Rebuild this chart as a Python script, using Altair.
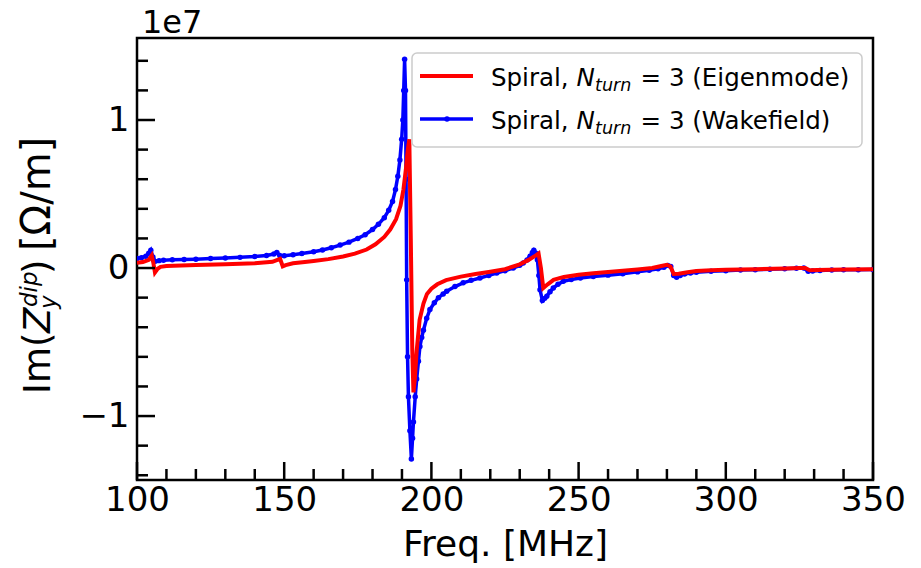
import altair as alt
import pandas as pd

# ---------------- data (values in units of 1e7 Ohm/m) ----------------
eig_freq = [100, 102, 104, 105, 105.6, 106.1, 107, 108, 110, 115, 120, 130, 140, 146, 148.6, 149.5,
            150.5, 153, 157, 160, 165, 170, 174, 178, 181, 184, 186, 188, 189.5, 190.5, 191.4, 192.0,
            192.5, 193.0, 193.5, 193.9, 194.4, 195.0, 196.0, 197.3, 198.5, 200, 202, 205, 210, 215,
            220, 225, 230, 233, 235.5, 236.4, 237.2, 238.0, 239.5, 241.5, 245, 250, 255, 260, 265,
            270, 275, 278.5, 280, 281.2, 282.3, 284, 287, 290, 295, 300, 310, 320, 325, 327, 328.5,
            331, 340, 350]
eig_val = [0.035, 0.04, 0.055, 0.085, 0.03, -0.03, -0.005, 0.008, 0.014, 0.017, 0.02, 0.025, 0.033,
           0.042, 0.062, 0.012, 0.02, 0.032, 0.04, 0.047, 0.06, 0.078, 0.097, 0.125, 0.16, 0.21,
           0.26, 0.33, 0.42, 0.53, 0.68, 0.80, 0.87, 0.2, -0.55, -0.84, -0.74, -0.56, -0.35, -0.24,
           -0.175, -0.14, -0.11, -0.082, -0.058, -0.04, -0.025, -0.008, 0.025, 0.055, 0.085, 0.098,
           0.0, -0.135, -0.11, -0.08, -0.06, -0.046, -0.036, -0.027, -0.018, -0.01, 0.0, 0.015,
           0.022, 0.01, -0.04, -0.038, -0.028, -0.02, -0.015, -0.012, -0.008, -0.004, 0.0, 0.0,
           -0.015, -0.013, -0.01, -0.008]

wake_freq = [100, 101.5, 103, 104, 104.7, 105.4, 106.2, 107.5, 109, 112, 116, 120, 125, 130, 135,
             140, 144, 146.5, 147.5, 148.5, 150, 153, 156, 160, 163, 166, 169, 172, 175, 177.5, 180,
             182, 184, 185.5, 186.8, 187.8, 188.6, 189.3, 189.9, 190.3, 190.6, 190.9, 191.2, 191.4,
             191.6, 191.9, 192.2, 192.7, 193.2, 193.6, 193.9, 194.5, 195.0, 195.6, 196.1, 196.7,
             197.3, 198.4, 199.5, 201, 202.4, 204, 205.2, 208, 210.8, 213.5, 216.5, 219.5, 222.2,
             225, 227.8, 230, 231.2, 232.5, 233.5, 234.3, 234.8, 235.5, 236.0, 236.5, 236.9, 237.7,
             238.5, 239.2, 240.3, 241.4, 243, 244.8, 247.5, 250.6, 255, 260, 265, 270, 274, 277,
             279, 280.3, 281.3, 282.3, 283.3, 284.5, 286, 288, 290, 295, 300, 305, 310, 315, 320,
             324, 326.5, 328, 329.5, 332, 336, 340, 345, 350]
wake_val = [0.065, 0.07, 0.08, 0.1, 0.12, 0.075, 0.045, 0.05, 0.053, 0.056, 0.058, 0.06, 0.064,
            0.068, 0.072, 0.078, 0.085, 0.095, 0.105, 0.085, 0.083, 0.09, 0.098, 0.11, 0.122, 0.137,
            0.155, 0.175, 0.2, 0.225, 0.26, 0.295, 0.34, 0.39, 0.45, 0.53, 0.62, 0.73, 0.87, 1.0,
            1.2, 1.41, 1.2, 0.6, -0.08, -0.6, -0.87, -1.1, -1.29, -1.15, -1.04, -0.87, -0.75, -0.63,
            -0.53, -0.47, -0.42, -0.34, -0.28, -0.235, -0.2, -0.175, -0.157, -0.125, -0.1, -0.083,
            -0.067, -0.05, -0.034, -0.018, 0.0, 0.018, 0.034, 0.055, 0.079, 0.105, 0.12, 0.1, 0.056,
            -0.05, -0.146, -0.22, -0.205, -0.19, -0.16, -0.135, -0.11, -0.09, -0.077, -0.067,
            -0.058, -0.048, -0.038, -0.026, -0.015, -0.005, 0.005, 0.018, 0.01, -0.05, -0.062,
            -0.05, -0.04, -0.033, -0.028, -0.022, -0.018, -0.014, -0.011, -0.008, -0.005, -0.002,
            0.0, -0.022, -0.02, -0.016, -0.013, -0.012, -0.011, -0.01]

SCALE = 1e7
x_major = [100, 150, 200, 250, 300, 350]
x_minor = [110, 120, 130, 140, 160, 170, 180, 190, 210, 220, 230, 240,
           260, 270, 280, 290, 310, 320, 330, 340]
y_major = [-1e7, 0, 1e7]
y_minor = [-1.4e7, -1.2e7, -0.8e7, -0.6e7, -0.4e7, -0.2e7,
           0.2e7, 0.4e7, 0.6e7, 0.8e7, 1.2e7, 1.4e7]

legend_labels = ["(Eigenmode)", "(Wakefield)"]
colors = ["#ff0000", "#0000ff"]

# ---------------- layout ----------------
W, H = 736, 442
FONT = "DejaVu Sans"
MAJ, MIN = 18, 11

eig = pd.DataFrame({"f": eig_freq, "v": [v * SCALE for v in eig_val]})
wake = pd.DataFrame({"f": wake_freq, "v": [v * SCALE for v in wake_val]})

xs = alt.Scale(domain=[100, 350], nice=False, zero=False)
ys = alt.Scale(domain=[-1.432e7, 1.554e7], nice=False, zero=False)

xaxis = alt.Axis(values=x_major, ticks=False, domain=False, grid=False,
                 labelFontSize=34, labelFont=FONT, labelColor="black", labelPadding=3,
                 labelFlush=False, labelOverlap=False,
                 title="Freq. [MHz]", titleFontSize=36, titleFont=FONT,
                 titleFontWeight="normal", titleColor="black", titlePadding=10)
yaxis = alt.Axis(values=y_major, ticks=False, domain=False, grid=False,
                 labelExpr="format(datum.value / 1e7, 'd')",
                 labelFontSize=34, labelFont=FONT, labelColor="black", labelPadding=8,
                 labelFlush=False, labelOverlap=False, title="")


def X(field):
    return alt.X(field, scale=xs, axis=xaxis)


def Y(field):
    return alt.Y(field, scale=ys, axis=yaxis)


blue = alt.Chart(wake).mark_line(
    color=colors[1], strokeWidth=3.5, clip=True,
    point=alt.OverlayMarkDef(filled=True, size=30, color=colors[1])
).encode(x=X("f:Q"), y=Y("v:Q"), order="f:Q")

red = alt.Chart(eig).mark_line(color=colors[0], strokeWidth=4, clip=True).encode(
    x=X("f:Q"), y=Y("v:Q"), order="f:Q")


def yticks(vals, ln):
    return alt.Chart(pd.DataFrame({"t": vals})).mark_rule(color="black", strokeWidth=2.5).encode(
        y=Y("t:Q"), x=alt.value(0), x2=alt.value(ln))


def xticks(vals, ln):
    return alt.Chart(pd.DataFrame({"t": vals})).mark_rule(color="black", strokeWidth=2.5).encode(
        x=X("t:Q"), y=alt.value(H), y2=alt.value(H - ln))


one = pd.DataFrame({"a": [0]})


def txt(s, x, y, size, italic=False, angle=0, align="left"):
    kw = dict(font=FONT, fontSize=size, align=align, baseline="alphabetic", color="black")
    if italic:
        kw["fontStyle"] = "italic"
    if angle:
        kw["angle"] = angle
    return alt.Chart(one).mark_text(**kw).encode(
        x=alt.value(x), y=alt.value(y), text=alt.value(s))


# legend box
OX, OY = 137, 38
box = alt.Chart(one).mark_rect(fill="white", fillOpacity=0.85, stroke="#cccccc",
                               strokeWidth=1.5, cornerRadius=5).encode(
    x=alt.value(412 - OX), x2=alt.value(862 - OX), y=alt.value(53 - OY), y2=alt.value(147 - OY))

leg_layers = []
row_y = [76, 119]
base_y = [86, 129]
for i in range(2):
    leg_layers.append(alt.Chart(one).mark_rule(color=colors[i], strokeWidth=4 if i == 0 else 3.5).encode(
        x=alt.value(420 - OX), x2=alt.value(473 - OX), y=alt.value(row_y[i] - OY)))
    fs = 24.5
    x0 = 491 - OX
    by = base_y[i] - OY
    leg_layers.append(txt("Spiral,", x0, by, fs))
    xn = x0 + 3.486 * fs
    leg_layers.append(txt("N", xn, by, fs, italic=True))
    xt = xn + 0.76 * fs
    leg_layers.append(txt("turn", xt, by + 5, 17.5, italic=True))
    xe = xt + 2.071 * 17.5 + 2
    leg_layers.append(txt("= 3 " + legend_labels[i], xe + 0.3 * fs, by, fs))
leg_layers.append(alt.Chart(one).mark_point(filled=True, size=30, color=colors[1], opacity=1).encode(
    x=alt.value(447 - OX), y=alt.value(119 - OY)))

# y axis title (rotated), pieces placed bottom to top
TB = 50 - OX
yt = [
    txt("Im(", TB, 394 - OY, 37, angle=270),
    txt("Z", TB, 333 - OY, 37, italic=True, angle=270),
    txt("dip", TB - 13, 307 - OY, 23, italic=True, angle=270),
    txt("y", TB + 6, 309 - OY, 23, italic=True, angle=270),
    txt(")", TB, 274 - OY, 37, angle=270),
    txt("[Ω/m]", TB, 251 - OY, 40, angle=270),
]

offset_txt = txt("1e7", 142 - OX, 33 - OY, 32)

chart = alt.layer(
    blue, red,
    yticks(y_major, MAJ), yticks(y_minor, MIN),
    xticks(x_major, MAJ), xticks(x_minor, MIN),
    box, *leg_layers, *yt, offset_txt
).properties(
    width=W, height=H,
    padding={"left": 137, "top": 38, "right": 48, "bottom": 88},
    autosize=alt.AutoSizeParams(type="none"),
    background="white",
).configure_view(stroke="black", strokeWidth=2.5)

chart.save("out.html", embed_options={"renderer": "svg", "actions": False})
